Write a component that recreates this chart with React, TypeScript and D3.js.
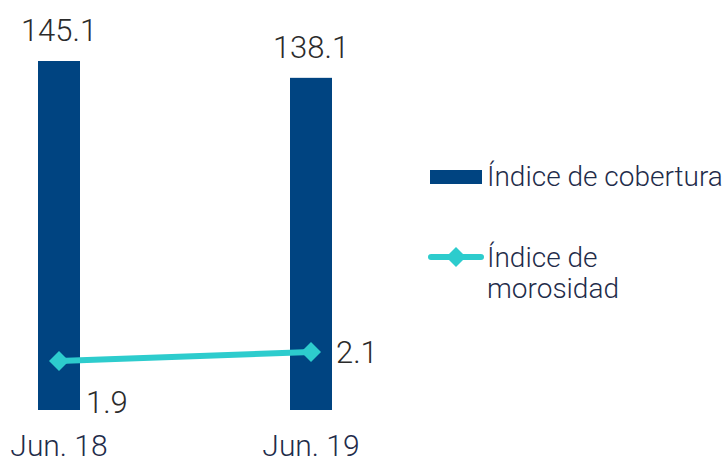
import React from 'react';
import * as d3 from 'd3';

const categories = ['Jun. 18', 'Jun. 19'];
const coberturaValues = [145.1, 138.1];
const morosidadValues = [1.9, 2.1];
const legendLabels = ['Índice de cobertura', 'Índice de', 'morosidad'];

const BAR_COLOR = '#004481';
const LINE_COLOR = '#2dcccd';
const FONT = 'Roboto, "Open Sans", sans-serif';

const App = () => {
  const width = 722;
  const height = 464;
  const barWidth = 42;
  const baseY = 410;

  // bar centres
  const x = d3.scalePoint<string>().domain(categories).range([59, 311]);

  // primary axis (bars)
  const y = d3.scaleLinear().domain([0, 145.1]).range([baseY, 61]);

  // secondary axis (line)
  const y2 = d3.scaleLinear().domain([1.9, 2.1]).range([361, 352]);

  const linePts: [number, number][] = categories.map((c, i) => [x(c) as number, y2(morosidadValues[i])]);
  const linePath = d3.line()(linePts) || '';

  const diamond = (cx: number, cy: number, r: number) =>
    `M${cx},${cy - r}L${cx + r},${cy}L${cx},${cy + r}L${cx - r},${cy}Z`;

  return (
    <svg width={width} height={height} style={{ position: 'absolute', left: 0, top: 0 }}>
      <rect width={width} height={height} fill="#fff" />
      {categories.map((c, i) => (
        <g key={c}>
          <rect
            x={(x(c) as number) - barWidth / 2}
            y={y(coberturaValues[i])}
            width={barWidth}
            height={baseY - y(coberturaValues[i])}
            fill={BAR_COLOR}
          />
          <text
            x={x(c)}
            y={y(coberturaValues[i]) - 20}
            textAnchor="middle"
            fontFamily={FONT}
            fontWeight={300}
            fontSize={31}
            fill="#2b2b2b"
          >
            {coberturaValues[i].toFixed(1)}
          </text>
          <text
            x={x(c)}
            y={456}
            textAnchor="middle"
            fontFamily={FONT}
            fontWeight={300}
            fontSize={30}
            fill="#1f2c4a"
          >
            {c}
          </text>
        </g>
      ))}
      <path d={linePath} fill="none" stroke={LINE_COLOR} strokeWidth={6} strokeLinecap="round" />
      {linePts.map(([px, py], i) => (
        <path key={i} d={diamond(px, py, 10)} fill={LINE_COLOR} />
      ))}
      <text x={86} y={413} fontFamily={FONT} fontWeight={300} fontSize={31} fill="#2b2b2b">
        {morosidadValues[0].toFixed(1)}
      </text>
      <text x={336} y={y2(morosidadValues[1]) + 11} fontFamily={FONT} fontWeight={300} fontSize={31} fill="#2b2b2b">
        {morosidadValues[1].toFixed(1)}
      </text>

      {/* legend */}
      <rect x={430} y={170} width={52} height={14} fill={BAR_COLOR} />
      <text x={487} y={186} fontFamily={FONT} fontWeight={300} fontSize={28} fill="#1f2c4a">
        {legendLabels[0]}
      </text>
      <line x1={431} x2={481} y1={257} y2={257} stroke={LINE_COLOR} strokeWidth={6} strokeLinecap="round" />
      <path d={diamond(456, 257, 10)} fill={LINE_COLOR} />
      <text x={487} y={267} fontFamily={FONT} fontWeight={300} fontSize={28} fill="#1f2c4a">
        {legendLabels[1]}
      </text>
      <text x={487} y={298} fontFamily={FONT} fontWeight={300} fontSize={28} fill="#1f2c4a">
        {legendLabels[2]}
      </text>
    </svg>
  );
};

export default App;
